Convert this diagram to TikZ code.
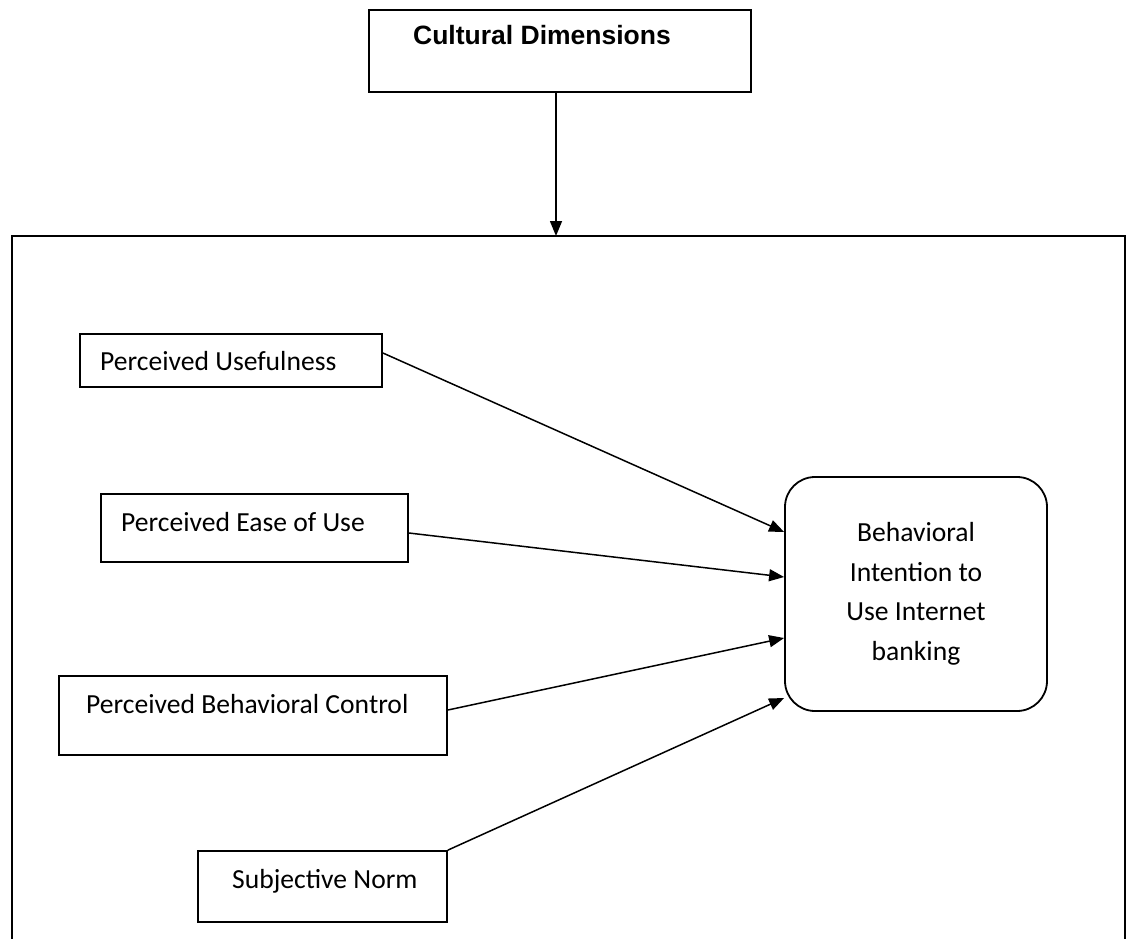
\documentclass[tikz,border=0pt]{standalone}
\usepackage{fontspec}
\setmainfont{Carlito}
\newfontfamily\arialfont{Liberation Sans}
\usetikzlibrary{arrows.meta}
\tikzset{
  box/.style={draw, line width=1.8pt, inner sep=0pt, rectangle},
  lbl/.style={inner sep=0pt, anchor=base west, font=\fontsize{27.6}{39}\selectfont},
  conn/.style={line width=1.5pt, -{Triangle[length=15pt,width=12pt]}},
}
\begin{document}
\begin{tikzpicture}[x=1pt,y=-1pt]
\useasboundingbox (0,0) rectangle (1127,939);
% outer frame (open at bottom)
\coordinate (fbl) at (12,945);
\coordinate (ftl) at (12,236);
\coordinate (ftr) at (1125,236);
\coordinate (fbr) at (1125,945);
\draw[line width=1.8pt] (fbl) -- (ftl) -- (ftr) -- (fbr);
% top box
\node[box, minimum width=382pt, minimum height=82pt] (cd) at (560,51) {};
\node[inner sep=0pt, font=\arialfont\bfseries\fontsize{26.5}{30}\selectfont] (cdt) at (542,35) {Cultural Dimensions};
\coordinate (fin) at (556,236);
\draw[conn] (cd.south -| fin) -- (fin);
% left boxes
\node[box, minimum width=302pt, minimum height=53pt] (pu) at (231,360.5) {};
\node[lbl] (put) at (100,370) {Perceived Usefulness};
\node[box, minimum width=307pt, minimum height=68pt] (peu) at (254.5,528) {};
\node[lbl] (peut) at (121,531) {Perceived Ease of Use};
\node[box, minimum width=388pt, minimum height=79pt] (pbc) at (253,715.5) {};
\node[lbl] (pbct) at (86,713) {Perceived Behavioral Control};
\node[box, minimum width=249pt, minimum height=71pt] (sn) at (322.5,886.5) {};
\node[lbl] (snt) at (232,888) {Subjective Norm};
% target
\node[draw, line width=1.8pt, rounded corners=30pt, minimum width=262pt, minimum height=234pt,
      align=center, font=\fontsize{27.6}{39.5}\selectfont] (bi) at (916,594)
      {Behavioral\\Intention to\\Use Internet\\banking};
% connectors
\draw[conn] ([yshift=7.5pt]pu.east) -- ([yshift=62pt]bi.west);
\draw[conn] ([yshift=-5pt]peu.east) -- ([yshift=17pt]bi.west);
\draw[conn] ([yshift=5.5pt]pbc.east) -- ([yshift=-44pt]bi.west);
\draw[conn] (sn.north east) -- ([yshift=-104pt]bi.west);
\end{tikzpicture}
\end{document}
